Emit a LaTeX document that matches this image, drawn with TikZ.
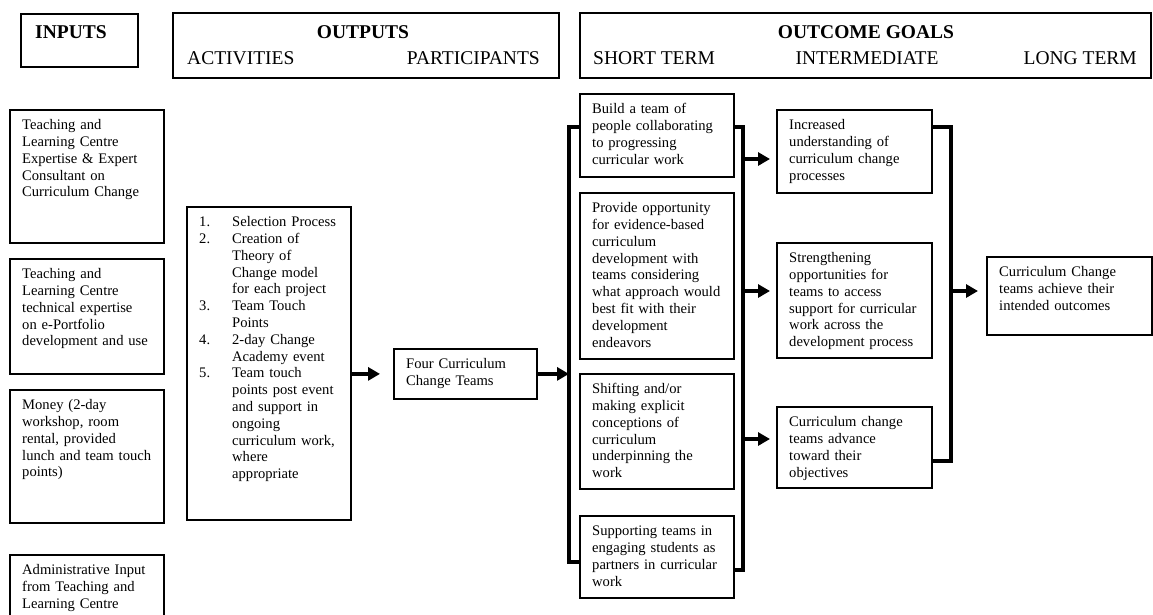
\documentclass[tikz,border=0pt]{standalone}
\usepackage{fontspec}
\setmainfont{Liberation Serif}
\usetikzlibrary{arrows.meta,calc}
\newcommand\bodyfont{\fontsize{14.6pt}{16.8pt}\selectfont}
\newcommand\headfont{\fontsize{19.5pt}{22pt}\selectfont}
\newcommand\bx[6]{%
  \node[tbox, minimum width=#4pt, minimum height=#5pt] (#1) at (#2,#3) {};
  \node[tx] (#1-t) at ({#2+13},{#3+9.5}) {\rule{0pt}{11pt}#6};
}
\newcommand\num[1]{\makebox[33pt][l]{#1}}
\newcommand\ind{\hspace*{33pt}}
\begin{document}
\begin{tikzpicture}[x=1pt,y=-1pt,
  tbox/.style={draw, line width=1.8pt, anchor=north west, inner sep=0pt},
  tx/.style={anchor=north west, inner sep=0pt, align=left, text width=150pt, font=\bodyfont},
  hd/.style={inner sep=0pt, font=\headfont},
  brk/.style={line width=3.2pt, line join=miter},
  arr/.style={line width=3.8pt, -{Triangle[length=12pt,width=13pt]}}]
\useasboundingbox (0,0) rectangle (1153,614);
\clip (0,0) rectangle (1153,614);
% header
\node[tbox, minimum width=117pt, minimum height=53pt] (hin) at (20,13) {};
\node[hd, anchor=base west, font=\headfont\bfseries] (hin-t) at (35,38) {INPUTS};
\node[tbox, minimum width=386pt, minimum height=65pt] (hout) at (172,12) {};
\node[hd, anchor=base, font=\headfont\bfseries] (hout-t) at (363,38) {OUTPUTS};
\node[hd, anchor=base west] (hact) at (187,64) {ACTIVITIES};
\node[hd, anchor=base east] (hpart) at (540,64) {PARTICIPANTS};
\node[tbox, minimum width=571pt, minimum height=65pt] (hgoal) at (579,12) {};
\node[hd, anchor=base, font=\headfont\bfseries] (hgoal-t) at (866,38) {OUTCOME GOALS};
\node[hd, anchor=base west] (hst) at (593,64) {SHORT TERM};
\node[hd, anchor=base] (hint) at (867,64) {INTERMEDIATE};
\node[hd, anchor=base east] (hlt) at (1137,64) {LONG TERM};
% inputs
\bx{in1}{9}{109}{154}{133}{Teaching and\\Learning Centre\\Expertise \& Expert\\Consultant on\\Curriculum Change}
\bx{in2}{9}{258}{154}{115}{Teaching and\\Learning Centre\\technical expertise\\on e-Portfolio\\development and use}
\bx{in3}{9}{389}{154}{133}{Money (2-day\\workshop, room\\rental, provided\\lunch and team touch\\points)}
\bx{in4}{9}{554}{154}{90}{Administrative Input\\from Teaching and\\Learning Centre}
% activities
\bx{act}{186}{206}{164}{313}{\num{1.}Selection Process\\\num{2.}Creation of\\\ind Theory of\\\ind Change model\\\ind for each project\\\num{3.}Team Touch\\\ind Points\\\num{4.}2-day Change\\\ind Academy event\\\num{5.}Team touch\\\ind points post event\\\ind and support in\\\ind ongoing\\\ind curriculum work,\\\ind where\\\ind appropriate}
% participants
\bx{four}{393}{348}{143}{50}{Four Curriculum\\Change Teams}
% short term
\bx{s1}{579}{93}{154}{83}{Build a team of\\people collaborating\\to progressing\\curricular work}
\bx{s2}{579}{192}{154}{166}{Provide opportunity\\for evidence-based\\curriculum\\development with\\teams considering\\what approach would\\best fit with their\\development\\endeavors}
\bx{s3}{579}{373}{154}{115}{Shifting and/or\\making explicit\\conceptions of\\curriculum\\underpinning the\\work}
\bx{s4}{579}{515}{154}{82}{Supporting teams in\\engaging students as\\partners in curricular\\work}
% intermediate
\bx{i1}{776}{109}{155}{83}{Increased\\understanding of\\curriculum change\\processes}
\bx{i2}{776}{242}{155}{115}{Strengthening\\opportunities for\\teams to access\\support for curricular\\work across the\\development process}
\bx{i3}{776}{406}{155}{81}{Curriculum change\\teams advance\\toward their\\objectives}
% long term
\bx{long}{986}{256}{165}{78}{Curriculum Change\\teams achieve their\\intended outcomes}
% connectors
\coordinate (lbt) at (569,127);
\coordinate (lbb) at (569,562);
\coordinate (rbt) at (743,127);
\coordinate (rbb) at (743,570);
\coordinate (qbt) at (951,127);
\coordinate (qbb) at (951,461);
\coordinate (r1) at (743,159);
\coordinate (r2) at (743,291);
\coordinate (r3) at (743,439);
\coordinate (q2) at (951,291);
\draw[arr] (act.east |- four.west) -- ($(four.west)+(-13,0)$);
\draw[arr] (four.east) -- (four.east -| lbt);
\draw[brk] (s1.west |- lbt) -- (lbt) -- (lbb) -- (s4.west |- lbb);
\draw[brk] (s1.east |- rbt) -- (rbt) -- (rbb) -- (s4.east |- rbb);
\draw[arr] (r1) -- ($(i1.west |- r1)+(-6,0)$);
\draw[arr] (r2) -- ($(i2.west |- r2)+(-6,0)$);
\draw[arr] (r3) -- ($(i3.west |- r3)+(-6,0)$);
\draw[brk] (i1.east |- qbt) -- (qbt) -- (qbb) -- (i3.east |- qbb);
\draw[arr] (q2) -- ($(long.west |- q2)+(-8,0)$);
\end{tikzpicture}
\end{document}
